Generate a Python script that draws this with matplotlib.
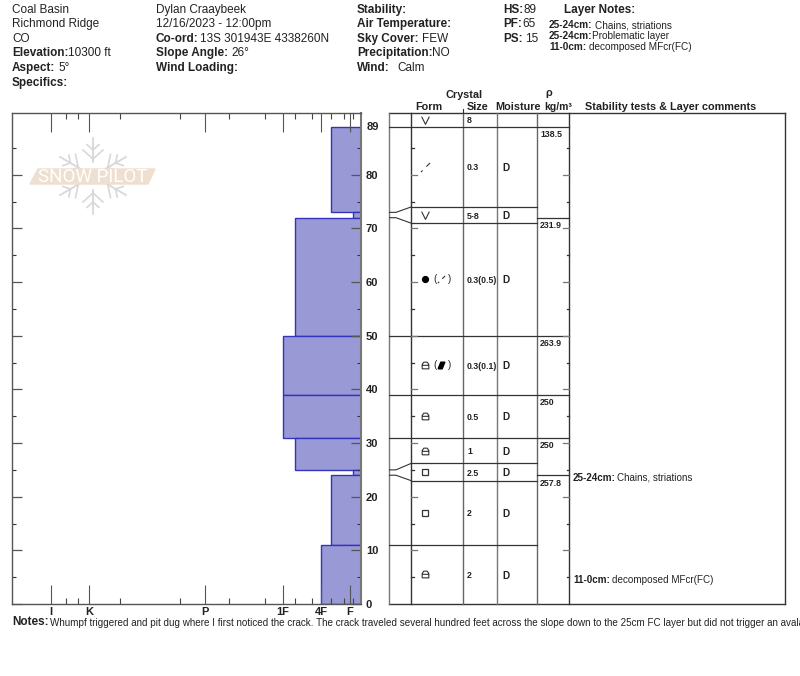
import numpy as np
import matplotlib
matplotlib.use('Agg')
import matplotlib.pyplot as plt
from matplotlib.path import Path
from matplotlib.patches import Polygon
plt.rcParams['font.family'] = ['Liberation Sans', 'DejaVu Sans']

W, H = 800, 676

# hand hardness profile, heights in cm
layer_tops = [89, 73, 72, 50, 39, 31, 25, 24, 11]
layer_bottoms = [73, 72, 50, 39, 31, 25, 24, 11, 0]
layer_hardness = ['4F-', 'F-', '1F-', '1F', '1F', '1F-', 'F-', '4F-', '4F']

# hardness scale, distance along the axis
hardness_major = {'I': 39, 'K': 77, 'P': 193, '1F': 271, '4F': 309, 'F': 338}
hardness_minor = [54, 66, 108, 168, 217, 253, 283, 300, 319, 332, 341]
hardness_pos = {'F-': 341, '4F-': 319, '1F-': 283, '4F': 309, '1F': 271}

# table rows, top to bottom
row_edges = [91.5, 89, 74, 71, 50, 39, 31, 26.2, 23, 11, 0]
row_form = ['V', 'pp', 'V', 'dot', 'rg', 'rg', 'rg', 'fc', 'fc', 'rg']
row_form2 = ['', '', '', 'pp', 'mf', '', '', '', '', '']
row_size = ['8', '0.3', '5-8', '0.3 (0.5)', '0.3 (0.1)', '0.5', '1', '2.5', '2', '2']
row_moisture = ['', 'D', 'D', 'D', 'D', 'D', 'D', 'D', 'D', 'D']

# layer boundary on the left of the table and where it lands on the form column
connector_layer = [73, 72, 25, 24]
connector_row = [74, 71, 26.2, 23]

density_edges = [89, 72, 50, 39, 31, 24]
density_values = ['138.5', '231.9', '263.9', '250', '250', '257.8']

column_x = [389, 411, 463, 497, 537, 569, 785]
column_col = ['#777777', '#333333', '#666666', '#777777', '#666666', '#333333', '#333333']

header_left = [
    (12, 9, 'Coal Basin', None), (12, 23, 'Richmond Ridge', None), (12, 38, 'CO', None),
    (12, 52, 'Elevation:', '10300 ft', 68), (12, 67, 'Aspect:', '5°', 58), (12, 82, 'Specifics:', '', 0),
]
header_mid = [
    (156, 9, 'Dylan Craaybeek', None), (156, 23, '12/16/2023 - 12:00pm', None),
    (156, 38, 'Co-ord:', '13S 301943E 4338260N', 200), (156, 52, 'Slope Angle:', '26°', 231),
    (156, 67, 'Wind Loading:', '', 0),
]
header_right = [
    (357, 9, 'Stability:', '', 0), (357, 23, 'Air Temperature:', '', 0), (357, 38, 'Sky Cover:', 'FEW', 422),
    (357, 52, 'Precipitation:', 'NO', 432), (357, 67, 'Wind:', 'Calm', 397),
    (503, 9, 'HS:', '89', 523), (503, 23, 'PF:', '65', 522), (503, 38, 'PS:', '15', 525),
]
layer_notes = [
    (24, '25-24cm:', 'Chains, striations', 595),
    (35, '25-24cm:', 'Problematic layer', 592),
    (46, '11-0cm:', 'decomposed MFcr(FC)', 589),
]
notes_text = ('Whumpf triggered and pit dug where I first noticed the crack. The crack traveled '
              'several hundred feet across the slope down to the 25cm FC layer but did not '
              'trigger an avalanche.')

# grain shape symbols
MV = Path([(-1, 1), (0, -1), (1, 1)], [1, 2, 2])
MPP = Path([(-1, -1), (-0.65, -0.65), (0.2, 0.2), (1, 1)], [1, 2, 1, 2])
MRG = Path([(-1, -1), (1, -1), (1, 0.3), (0.5, 1), (-0.5, 1), (-1, 0.3), (-1, -1), (-1, 0.05), (1, 0.05)],
           [1, 2, 2, 2, 2, 2, 2, 1, 2])
MMF = Path([(-1, -1), (0.2, -1), (1, 1), (-0.2, 1), (-1, -1)], [1, 2, 2, 2, 2])


def px(x, y):
    return x / W, 1 - y / H


def label(x, y, s, size=8.5, bold=False, ha='left', color='#222222'):
    fig.text(*px(x, y + 1), s, fontsize=size, fontweight='bold' if bold else 'normal',
             ha=ha, va='center', color=color)


def draw_symbol(ax, x, y, name, small=False):
    k = 0.8 if small else 1.0
    if name == 'V':
        ax.plot(x, y, marker=MV, ms=5.6 * k, mfc='none', mec='#333333', mew=0.8)
    elif name == 'pp':
        ax.plot(x, y, marker=MPP, ms=6.5 * k, mfc='none', mec='#333333', mew=0.8)
    elif name == 'dot':
        ax.plot(x, y, marker='o', ms=4.2, color='black')
    elif name == 'rg':
        ax.plot(x, y, marker=MRG, ms=4.8, mfc='none', mec='#333333', mew=0.8)
    elif name == 'fc':
        ax.plot(x, y, marker='s', ms=4.8, mfc='none', mec='#333333', mew=0.9)
    elif name == 'mf':
        ax.plot(x, y, marker=MMF, ms=4.8, color='black')


fig = plt.figure(figsize=(W / 100, H / 100), dpi=100)

# ---- header text ----
for row in header_left + header_mid + header_right:
    if row[3] is None:
        label(row[0], row[1], row[2])
    else:
        label(row[0], row[1], row[2], bold=True)
        if row[3]:
            label(row[4], row[1], row[3])
label(564, 9, 'Layer Notes:', bold=True)
for y, key, txt, xt in layer_notes:
    label(549, y, key, size=7.2, bold=True)
    label(xt, y, txt, size=7.2)

# ---- table titles ----
label(464, 94, 'Crystal', size=7.8, bold=True, ha='center')
label(429, 106, 'Form', size=7.8, bold=True, ha='center')
label(478, 106, 'Size', size=7.8, bold=True, ha='center')
label(518, 106, 'Moisture', size=7.8, bold=True, ha='center')
label(549, 92, 'ρ', size=7.8, bold=True, ha='center')
label(558, 106, 'kg/m³', size=7.5, bold=True, ha='center')
label(585, 106, 'Stability tests & Layer comments', size=7.8, bold=True)

# ---- hardness profile ----
ax = fig.add_axes([12 / W, 1 - 604 / H, 349 / W, 491 / H])
ax.set_xlim(0, 349)
ax.set_ylim(0, 491 / 5.365)
left = [hardness_pos[h] for h in layer_hardness]
ax.barh(layer_bottoms, [349 - l for l in left], np.array(layer_tops) - np.array(layer_bottoms),
        left=left, align='edge', color='#9999d6', edgecolor='#3333bb', linewidth=1)
ax.set_xticks(list(hardness_major.values()))
ax.set_xticklabels(list(hardness_major.keys()), fontweight='bold', fontsize=8, color='#222222')
ax.set_xticks(hardness_minor, minor=True)
ax.set_yticks(range(0, 90, 10))
ax.set_yticklabels([str(v) for v in range(0, 90, 10)], fontweight='bold', fontsize=8, color='#222222')
ax.set_yticks(range(5, 90, 10), minor=True)
ax.yaxis.tick_right()
ax.tick_params(axis='x', which='major', direction='in', top=True, bottom=True, length=14, width=0.8,
               color='#555555', pad=2)
ax.tick_params(axis='x', which='minor', direction='in', top=True, bottom=True, length=4, width=0.8, color='#444444')
ax.tick_params(axis='y', which='major', direction='in', left=True, right=True, length=7, width=0.9,
               color='#555555', pad=3.5)
ax.tick_params(axis='y', which='minor', direction='in', left=True, right=True, length=3, width=0.8, color='#333333')
ax.text(355, 89, '89', fontweight='bold', fontsize=8, color='#222222', va='center', clip_on=False)
for s in ax.spines.values():
    s.set_color('#555555')
    s.set_linewidth(1)
ax.spines['right'].set_color('#777777')
ax.spines['right'].set_linewidth(1.5)

# ---- layer table ----
tb = fig.add_axes([389 / W, 1 - 604 / H, 396 / W, 491 / H])
tb.set_xlim(389, 785)
tb.set_ylim(0, 491 / 5.365)
tb.patch.set_alpha(0)
tb.set_xticks([])
tb.set_yticks([])
for s in tb.spines.values():
    s.set_visible(False)
tb.plot([389, 785], [0, 0], color='#333333', lw=1, clip_on=False)
tb.plot([389, 785], [491 / 5.365] * 2, color='#333333', lw=1, clip_on=False)
for cx, cc in zip(column_x, column_col):
    tb.plot([cx, cx], [0, 491 / 5.365], color=cc, lw=1, clip_on=False)
tb.plot([463, 463], [491 / 5.365, 92.2], color='#333333', lw=0.8, clip_on=False)

for e in row_edges[1:-1]:
    right = 537 if e not in density_edges else 569
    start = 411 if e in connector_row else 389
    tb.plot([start, right], [e, e], color='#333333', lw=0.9)
for a, b in zip(connector_layer, connector_row):
    tb.plot([389, 396, 411], [a, a, b], color='#333333', lw=0.8)
for e in density_edges:
    if e not in row_edges:
        tb.plot([537, 569], [e, e], color='#333333', lw=0.9)

for v in range(5, 90, 5):
    n = 6 if v % 10 == 0 else 2.5
    c = '#777777' if v % 10 == 0 else '#333333'
    tb.plot([411, 411 + n], [v, v], color=c, lw=0.9)
    tb.plot([569 - n, 569], [v, v], color=c, lw=0.9)

# row contents, text sits a little under the cell middle
for i in range(len(row_form)):
    y = (row_edges[i] + row_edges[i + 1]) / 2
    draw_symbol(tb, 425, y, row_form[i])
    if row_form2[i]:
        draw_symbol(tb, 441, y, row_form2[i], small=True)
        tb.text(433, y, '(', fontsize=7, va='center', color='#222222')
        tb.text(448, y, ')', fontsize=7, va='center', color='#222222')
    tb.text(467, y - 0.2, row_size[i].replace(' ', ''), fontsize=6.3, fontweight='bold', va='center', color='#222222')
    if row_moisture[i]:
        tb.text(502, y - 0.2, row_moisture[i], fontsize=7.2, fontweight='bold', va='center', color='#222222')
for e, d in zip(density_edges, density_values):
    tb.text(540, e - 1.45, d, fontsize=6.3, fontweight='bold', va='center', color='#222222')

# layer comments
label(573, 477, '25-24cm:', size=7.1, bold=True)
label(617, 477, 'Chains, striations', size=7.1)
label(573, 579, '11-0cm:', size=7.1, bold=True)
label(612, 579, 'decomposed MFcr(FC)', size=7.1)

# ---- notes ----
label(12, 621, 'Notes:', size=8.5, bold=True)
label(50, 622, notes_text, size=7.1)

# ---- logo ----
lg = fig.add_axes([20 / W, 1 - 222 / H, 150 / W, 92 / H])
lg.set_xlim(20, 170)
lg.set_ylim(222, 130)
lg.axis('off')
cx, cy = 93, 176
for a in np.deg2rad(np.arange(0, 360, 60) + 90):
    d = np.array([np.cos(a), np.sin(a)])
    n = np.array([-d[1], d[0]])
    p0 = np.array([cx, cy]) + d * 14
    lg.plot(*zip(p0, p0 + d * 24), color='#d8d8d8', lw=1.3)
    for t, s in ((17, 10), (26, 6)):
        c = np.array([cx, cy]) + d * t
        for sg in (-1, 1):
            lg.plot(*zip(c, c + d * s * 0.9 + n * sg * s), color='#d8d8d8', lw=1.2)
lg.add_patch(Polygon([(30, 184), (38, 169), (155, 169), (148, 184)], closed=True, color='#eedfd0', zorder=3))
lg.text(93, 176.8, 'SNOW PILOT', color='white', fontsize=13.5, family='Roboto', ha='center', va='center', zorder=4)

fig.savefig('out.png', dpi=100)
